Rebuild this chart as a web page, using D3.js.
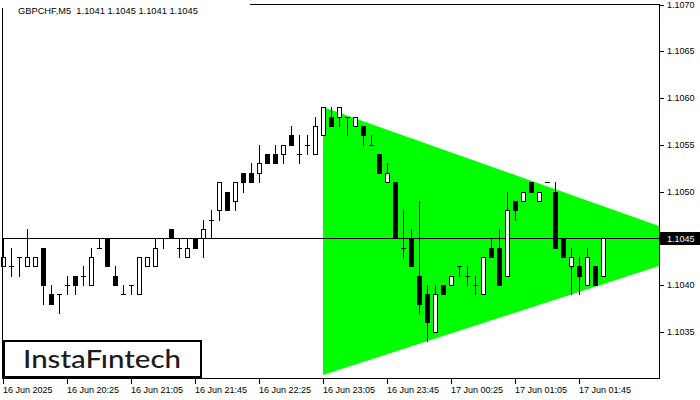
<!DOCTYPE html>
<html><head><meta charset="utf-8">
<script src="https://cdn.jsdelivr.net/npm/d3@7"></script>
<style>
html,body{margin:0;padding:0;background:#fff;}
svg{display:block;font-family:"Liberation Sans",Arial,sans-serif;}
</style>
</head><body>
<svg id="chart" width="700" height="400"></svg>
<script>
// ---------- DATA ----------
const chartTitle = "GBPCHF,M5  1.1041 1.1045 1.1041 1.1045";
const openP  = [1.1042,1.1042,1.1043,1.1042,1.1042,1.1044,1.1039,1.1039,1.1040,1.1041,
                1.1041,1.1040,1.1044,1.1045,1.1041,1.1039,1.1040,1.1039,1.1042,1.1042,
                1.1045,1.1046,1.1044,1.1043,1.1045,1.1045,1.1047,1.1048,1.1050,1.1049,
                1.1052,1.1052,1.1052,1.1054,1.1054,1.1054,1.1056,1.1054,1.1055,1.1054,
                1.1056,1.1058,1.1058,1.1058,1.1057,1.1057,1.1055,1.1054,1.1051,1.1051,
                1.1044,1.1045,1.1041,1.1039,1.1035,1.1040,1.1040,1.1042,1.1041,1.1040,
                1.1039,1.1044,1.1044,1.1041,1.1049,1.1049,1.1051,1.1049,1.1051,1.1050,
                1.1045,1.1042,1.1042,1.1040,1.1042,1.1041];
const highP  = [1.1045,1.1044,1.1043,1.1046,1.1043,1.1044,1.1040,1.1039,1.1041,1.1041,
                1.1042,1.1044,1.1045,1.1045,1.1042,1.1040,1.1040,1.1043,1.1043,1.1045,
                1.1045,1.1046,1.1045,1.1045,1.1045,1.1047,1.1048,1.1051,1.1050,1.1051,
                1.1052,1.1053,1.1055,1.1054,1.1055,1.1055,1.1057,1.1056,1.1056,1.1058,
                1.1059,1.1059,1.1059,1.1058,1.1058,1.1057,1.1056,1.1054,1.1053,1.1051,
                1.1048,1.1046,1.1049,1.1040,1.1040,1.1040,1.1041,1.1042,1.1042,1.1041,
                1.1043,1.1045,1.1046,1.1050,1.1049,1.1050,1.1051,1.1050,1.1051,1.1051,
                1.1045,1.1044,1.1043,1.1044,1.1042,1.1045];
const lowP   = [1.1042,1.1041,1.1041,1.1042,1.1042,1.1038,1.1038,1.1037,1.1039,1.1039,
                1.1040,1.1040,1.1044,1.1042,1.1040,1.1039,1.1039,1.1039,1.1042,1.1042,
                1.1044,1.1045,1.1043,1.1043,1.1044,1.1043,1.1045,1.1047,1.1048,1.1048,
                1.1050,1.1051,1.1051,1.1053,1.1053,1.1053,1.1055,1.1053,1.1054,1.1054,
                1.1056,1.1057,1.1057,1.1056,1.1057,1.1055,1.1055,1.1052,1.1051,1.1045,
                1.1043,1.1042,1.1037,1.1034,1.1035,1.1039,1.1040,1.1041,1.1040,1.1039,
                1.1039,1.1043,1.1040,1.1041,1.1047,1.1049,1.1050,1.1049,1.1051,1.1044,
                1.1043,1.1039,1.1039,1.1040,1.1040,1.1041];
const closeP = [1.1043,1.1042,1.1043,1.1043,1.1043,1.1040,1.1038,1.1039,1.1040,1.1040,
                1.1041,1.1043,1.1044,1.1042,1.1040,1.1039,1.1040,1.1043,1.1043,1.1044,
                1.1045,1.1045,1.1044,1.1044,1.1044,1.1046,1.1047,1.1051,1.1048,1.1051,
                1.1051,1.1051,1.1053,1.1053,1.1053,1.1055,1.1055,1.1054,1.1055,1.1057,
                1.1059,1.1057,1.1059,1.1058,1.1058,1.1056,1.1055,1.1052,1.1052,1.1045,
                1.1044,1.1042,1.1038,1.1036,1.1039,1.1039,1.1041,1.1042,1.1041,1.1040,
                1.1043,1.1043,1.1040,1.1048,1.1048,1.1050,1.1050,1.1050,1.1051,1.1044,
                1.1043,1.1043,1.1041,1.1043,1.1040,1.1045];
const timeTickBars   = [0, 8, 16, 24, 32, 40, 48, 56, 64, 72];
const timeTickLabels = ["16 Jun 2025","16 Jun 20:25","16 Jun 21:05","16 Jun 21:45","16 Jun 22:25",
                        "16 Jun 23:05","16 Jun 23:45","17 Jun 00:25","17 Jun 01:05","17 Jun 01:45"];
const priceTicks = [1.1035, 1.1040, 1.1045, 1.1050, 1.1055, 1.1060, 1.1065, 1.1070];
const levelPrice = 1.1045;
const triangleBars  = [40, 82];
const triangleUpper = [1.1059, 1.10463];
const triangleLower = [1.10304, 1.10420];
const logoText = "InstaF\u0131ntech";

// ---------- SCALES ----------
const svg = d3.select("#chart");
const nSlots = 82;
const x = d3.scaleLinear().domain([0, nSlots]).range([3, 659]);
const y = d3.scaleLinear().domain([1.1030, 1.1070]).range([378.5, 4.5]).interpolate(d3.interpolateRound);
const fmt = d3.format(".4f");

// ---------- TRIANGLE ----------
svg.append("polygon")
  .attr("points", [
      [x(triangleBars[0]), y(triangleUpper[0])],
      [x(triangleBars[1]), y(triangleUpper[1])],
      [x(triangleBars[1]), y(triangleLower[1])],
      [x(triangleBars[0]), y(triangleLower[0])]
    ].map(p => p.join(",")).join(" "))
  .attr("fill", "#00ff00");

// ---------- LEVEL LINE ----------
svg.append("line")
  .attr("x1", 2).attr("x2", 660)
  .attr("y1", y(levelPrice) + 0.5).attr("y2", y(levelPrice) + 0.5)
  .attr("stroke", "#000").attr("stroke-width", 1);

// ---------- CANDLES ----------
const bars = openP.map((o, i) => ({i, o, h: highP[i], l: lowP[i], c: closeP[i]}));
const g = svg.append("g");
bars.forEach(d => {
  const cx = x(d.i);
  const yh = y(d.h), yl = y(d.l), yo = y(d.o), yc = y(d.c);
  if (yl > yh) {
    g.append("line").attr("x1", cx + 0.5).attr("x2", cx + 0.5)
      .attr("y1", yh).attr("y2", yl + 1).attr("stroke", "#000");
  }
  if (d.c > d.o) {
    g.append("rect").attr("x", cx - 1.5).attr("y", yc + 0.5)
      .attr("width", 4).attr("height", yo - yc)
      .attr("fill", "#fff").attr("stroke", "#000").attr("stroke-width", 1);
  } else if (d.c < d.o) {
    g.append("rect").attr("x", cx - 2).attr("y", yo)
      .attr("width", 5).attr("height", yc - yo + 1).attr("fill", "#000");
  } else {
    g.append("line").attr("x1", cx - 2).attr("x2", cx + 3)
      .attr("y1", yo + 0.5).attr("y2", yo + 0.5).attr("stroke", "#000");
  }
});

// ---------- FRAME ----------
svg.append("rect").attr("x", 2.5).attr("y", 4.5).attr("width", 657).attr("height", 374)
  .attr("fill", "none").attr("stroke", "#000");

// ---------- AXES ----------
const xAxis = d3.axisBottom(x).tickValues(timeTickBars)
  .tickFormat((d, i) => timeTickLabels[i]).tickSizeInner(5).tickSizeOuter(0).tickPadding(3);
const gx = svg.append("g").attr("transform", "translate(0,379)").call(xAxis);
gx.select(".domain").remove();
gx.selectAll("text").attr("text-anchor", "start").attr("x", -0.5)
  .attr("font-family", "Liberation Sans, Arial, sans-serif").attr("font-size", 9).attr("fill", "#000");
gx.selectAll("line").attr("stroke", "#000");

const yAxis = d3.axisRight(y).tickValues(priceTicks).tickFormat(fmt)
  .tickSizeInner(4).tickSizeOuter(0).tickPadding(3);
const gy = svg.append("g").attr("transform", "translate(660,0)").call(yAxis);
gy.select(".domain").remove();
gy.selectAll("text").attr("font-family", "Liberation Sans, Arial, sans-serif")
  .attr("font-size", 9).attr("fill", "#000");
gy.selectAll("line").attr("stroke", "#000");
gy.selectAll(".tick").filter(d => d === levelPrice).select("text").attr("fill", "none");

// current price label
svg.append("rect").attr("x", 660).attr("y", y(levelPrice) - 6).attr("width", 40).attr("height", 13).attr("fill", "#000");
svg.append("text").attr("x", 667).attr("y", y(levelPrice) + 4)
  .attr("font-size", 9).attr("fill", "#fff").text(fmt(levelPrice));

// ---------- TITLE ----------
svg.append("rect").attr("x", 0).attr("y", 0).attr("width", 250).attr("height", 8).attr("fill", "#fff");
svg.append("text").attr("x", 18).attr("y", 14).attr("font-size", 9.3)
  .attr("fill", "#000").style("white-space", "pre").text(chartTitle);

// ---------- LOGO ----------
svg.append("rect").attr("x", 4).attr("y", 341).attr("width", 197).attr("height", 36)
  .attr("fill", "#fff").attr("stroke", "#000").attr("stroke-width", 2);
svg.append("text").attr("x", 23).attr("y", 368)
  .attr("font-family", "Lato, 'Open Sans', sans-serif").attr("font-weight", 500)
  .attr("font-size", 24).attr("fill", "#1c1c1c")
  .attr("textLength", 158).attr("lengthAdjust", "spacingAndGlyphs").text(logoText);
</script>
</body></html>
